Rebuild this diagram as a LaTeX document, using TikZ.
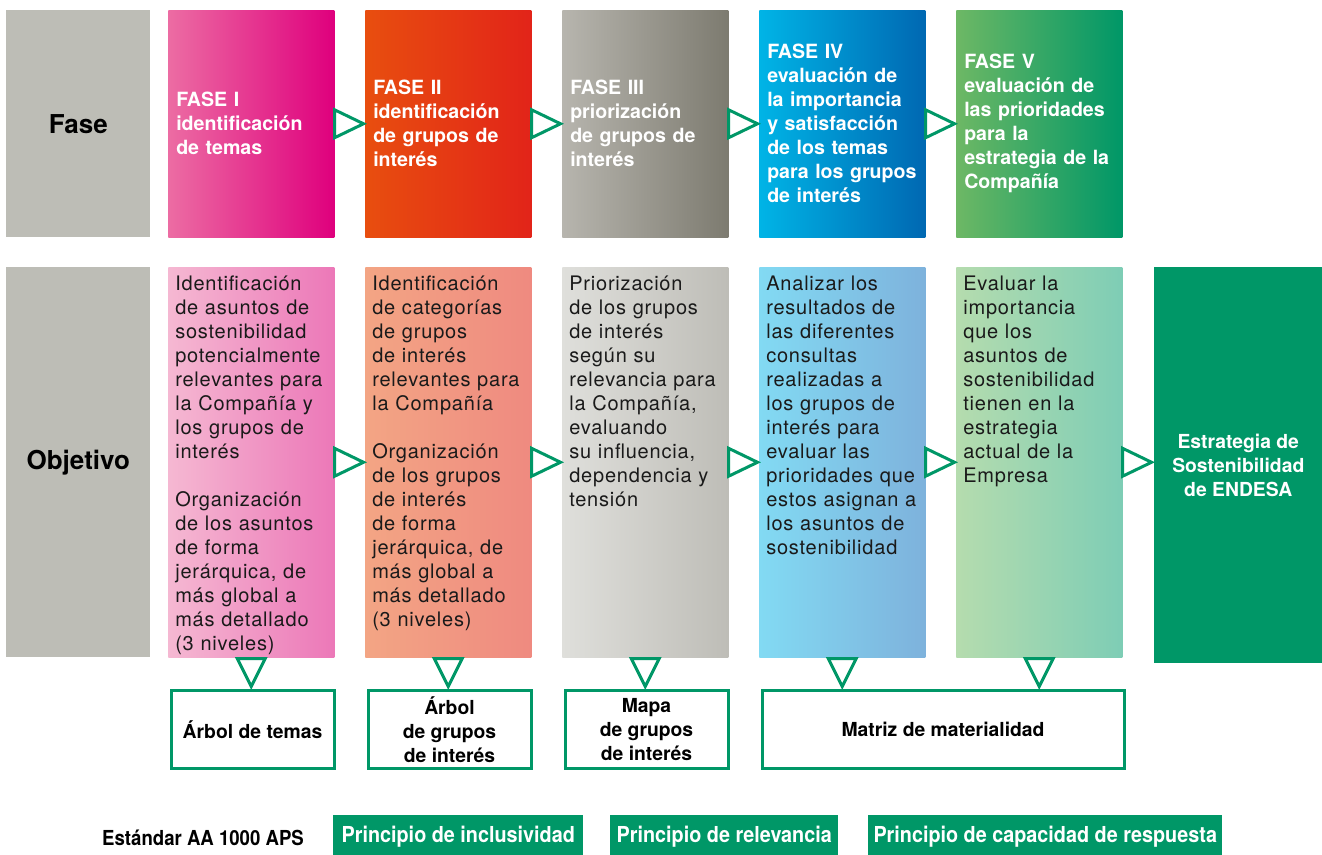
\documentclass[tikz,border=0pt]{standalone}
\usepackage{fontspec}
\setmainfont{TeX Gyre Heros}
\newfontfamily\bodyfont[LetterSpace=4]{TeX Gyre Heros}
\newfontfamily\narrowfont[FakeStretch=0.9]{TeX Gyre Heros}
\usetikzlibrary{calc}

\definecolor{labelgray}{HTML}{BDBDB6}
\definecolor{endesagreen}{HTML}{009767}
\definecolor{textdark}{HTML}{1A1A1A}
% phase shades
\definecolor{faseIa}{HTML}{EC6CA3}   \definecolor{faseIb}{HTML}{DF007D}
\definecolor{faseIIa}{HTML}{E84E0F}  \definecolor{faseIIb}{HTML}{E22419}
\definecolor{faseIIIa}{HTML}{B7B5AE} \definecolor{faseIIIb}{HTML}{7D7B70}
\definecolor{faseIVa}{HTML}{00B4E6}  \definecolor{faseIVb}{HTML}{0068B2}
\definecolor{faseVa}{HTML}{6DB865}   \definecolor{faseVm}{HTML}{00A25F}
% objective shades
\definecolor{objIa}{HTML}{F5B8D2}    \definecolor{objIb}{HTML}{EC78B8}
\definecolor{objIIa}{HTML}{F3A584}   \definecolor{objIIb}{HTML}{EF8A80}
\definecolor{objIIIa}{HTML}{DFDFDB}  \definecolor{objIIIb}{HTML}{BEBDB7}
\definecolor{objIVa}{HTML}{82DAF3}   \definecolor{objIVb}{HTML}{7EB2DC}
\definecolor{objVa}{HTML}{B5DCAE}    \definecolor{objVb}{HTML}{7ECDB5}

\tikzset{
    labelbox/.style={anchor=north west, fill=labelgray, minimum width=108pt, inner sep=0pt,
        font=\fontsize{19.5}{23}\selectfont\bfseries},
    fasebox/.style={anchor=north west, minimum width=124.5pt, minimum height=170.25pt,
        text width=112.5pt, inner xsep=6pt, align=left, text=white,
        font=\fontsize{14.7}{18}\selectfont\bfseries},
    objbox/.style={anchor=north west, minimum width=124.5pt, minimum height=292.5pt, inner sep=0pt},
    objtext/.style={anchor=north west, inner sep=0pt, text width=118pt, align=left, text=textdark,
        font=\bodyfont\fontsize{15}{18}\selectfont},
    outbox/.style={anchor=north west, draw=endesagreen, line width=2.25pt, fill=white,
        minimum height=58.5pt, inner sep=0pt, align=center,
        font=\fontsize{14.5}{18}\selectfont\bfseries},
    tri/.style={draw=endesagreen, fill=white, line width=2.25pt, line join=miter},
    principle/.style={anchor=north west, fill=endesagreen, text=white, minimum height=32pt,
        inner sep=0pt, font=\narrowfont\bfseries\fontsize{16.5}{18}\selectfont}
}

\begin{document}
\begin{tikzpicture}[x=0.75pt, y=-0.75pt]
    \useasboundingbox (0,0) rectangle (1322,854);

    % row labels
    \node[labelbox, minimum height=170.25pt] (fase) at (6,10) {Fase};
    \node[labelbox, minimum height=292.5pt] (obj) at (6,267) {Objetivo};

    % phases
    \node[fasebox, left color=faseIa, right color=faseIb] (f1) at (168,10)
        {FASE I\\identificación\\de temas};
    \node[fasebox, left color=faseIIa, right color=faseIIb] (f2) at (365,10)
        {FASE II\\identificación\\de grupos de\\interés};
    \node[fasebox, left color=faseIIIa, right color=faseIIIb] (f3) at (562,10)
        {FASE III\\priorización\\de grupos de\\interés};
    \node[fasebox, left color=faseIVa, right color=faseIVb] (f4) at (759,10)
        {FASE IV\\evaluación de\\la importancia\\y satisfacción\\de los temas\\para los grupos\\de interés};
    \node[fasebox, left color=faseVa, middle color=faseVm, right color=endesagreen] (f5) at (956,10)
        {FASE V\\evaluación de\\las prioridades\\para la\\estrategia de la\\Compañía};

    % objectives
    \node[objbox, left color=objIa, right color=objIb] (o1) at (168,267) {};
    \node[objbox, left color=objIIa, right color=objIIb] (o2) at (365,267) {};
    \node[objbox, left color=objIIIa, right color=objIIIb] (o3) at (562,267) {};
    \node[objbox, left color=objIVa, right color=objIVb] (o4) at (759,267) {};
    \node[objbox, left color=objVa, right color=objVb] (o5) at (956,267) {};
    \node[anchor=north west, fill=endesagreen, minimum width=126pt, minimum height=297pt,
        align=center, text=white, font=\fontsize{14.5}{18}\selectfont\bfseries] (est) at (1154,267)
        {Estrategia de\\Sostenibilidad\\de ENDESA};

    \node[objtext] (o1t) at ($(o1.north west)+(7,9)$)
        {Identificación\\de asuntos de\\sostenibilidad\\potencialmente\\relevantes para\\la Compañía y\\los grupos de\\interés\\[18pt]Organización\\de los asuntos\\de forma\\jerárquica, de\\más global a\\más detallado\\(3 niveles)};
    \node[objtext] (o2t) at ($(o2.north west)+(7,9)$)
        {Identificación\\de categorías\\de grupos\\de interés\\relevantes para\\la Compañía\\[18pt]Organización\\de los grupos\\de interés\\de forma\\jerárquica, de\\más global a\\más detallado\\(3 niveles)};
    \node[objtext] (o3t) at ($(o3.north west)+(7,9)$)
        {Priorización\\de los grupos\\de interés\\según su\\relevancia para\\la Compañía,\\evaluando\\su influencia,\\dependencia y\\tensión};
    \node[objtext] (o4t) at ($(o4.north west)+(7,9)$)
        {Analizar los\\resultados de\\las diferentes\\consultas\\realizadas a\\los grupos de\\interés para\\evaluar las\\prioridades que\\estos asignan a\\los asuntos de\\sostenibilidad};
    \node[objtext] (o5t) at ($(o5.north west)+(7,9)$)
        {Evaluar la\\importancia\\que los\\asuntos de\\sostenibilidad\\tienen en la\\estrategia\\actual de la\\Empresa};

    % outputs
    \node[outbox, minimum width=122.25pt] (r1) at (169.5,689) {Árbol de temas};
    \node[outbox, minimum width=122.25pt] (r2) at (366.5,689) {Árbol\\de grupos\\de interés};
    \node[outbox, minimum width=122.25pt] (r3) at (563.5,689) {Mapa\\de grupos\\de interés};
    \node[outbox, minimum width=271.5pt] (r4) at (760.5,689) {Matriz de materialidad};

    % open triangles between phases
    \draw[tri] ($(f1.east)+(0,-14)$) -- ++(29,14) -- ++(-29,14) -- cycle;
    \draw[tri] ($(f2.east)+(0,-14)$) -- ++(29,14) -- ++(-29,14) -- cycle;
    \draw[tri] ($(f3.east)+(0,-14)$) -- ++(29,14) -- ++(-29,14) -- cycle;
    \draw[tri] ($(f4.east)+(0,-14)$) -- ++(29,14) -- ++(-29,14) -- cycle;
    \draw[tri] ($(o1.east)+(0,-14)$) -- ++(29,14) -- ++(-29,14) -- cycle;
    \draw[tri] ($(o2.east)+(0,-14)$) -- ++(29,14) -- ++(-29,14) -- cycle;
    \draw[tri] ($(o3.east)+(0,-14)$) -- ++(29,14) -- ++(-29,14) -- cycle;
    \draw[tri] ($(o4.east)+(0,-14)$) -- ++(29,14) -- ++(-29,14) -- cycle;
    \draw[tri] ($(o5.east)+(0,-14)$) -- ++(29,14) -- ++(-29,14) -- cycle;

    % triangles down to the outputs
    \draw[tri] ($(o1.south)+(-14,1)$) -- ++(28,0) -- ++(-14,28) -- cycle;
    \draw[tri] ($(o2.south)+(-14,1)$) -- ++(28,0) -- ++(-14,28) -- cycle;
    \draw[tri] ($(o3.south)+(-14,1)$) -- ++(28,0) -- ++(-14,28) -- cycle;
    \draw[tri] ($(o4.south)+(-14,1)$) -- ++(28,0) -- ++(-14,28) -- cycle;
    \draw[tri] ($(o5.south)+(-14,1)$) -- ++(28,0) -- ++(-14,28) -- cycle;

    % AA 1000 principles
    \node[font=\narrowfont\bfseries\fontsize{15.5}{18}\selectfont] (aa) at (203,838) {Estándar AA 1000 APS};
    \node[principle, minimum width=187.5pt] (p1) at (333,815) {Principio de inclusividad};
    \node[principle, minimum width=171pt] (p2) at (610,815) {Principio de relevancia};
    \node[principle, minimum width=265.5pt] (p3) at (868,815) {Principio de capacidad de respuesta};

\end{tikzpicture}
\end{document}
